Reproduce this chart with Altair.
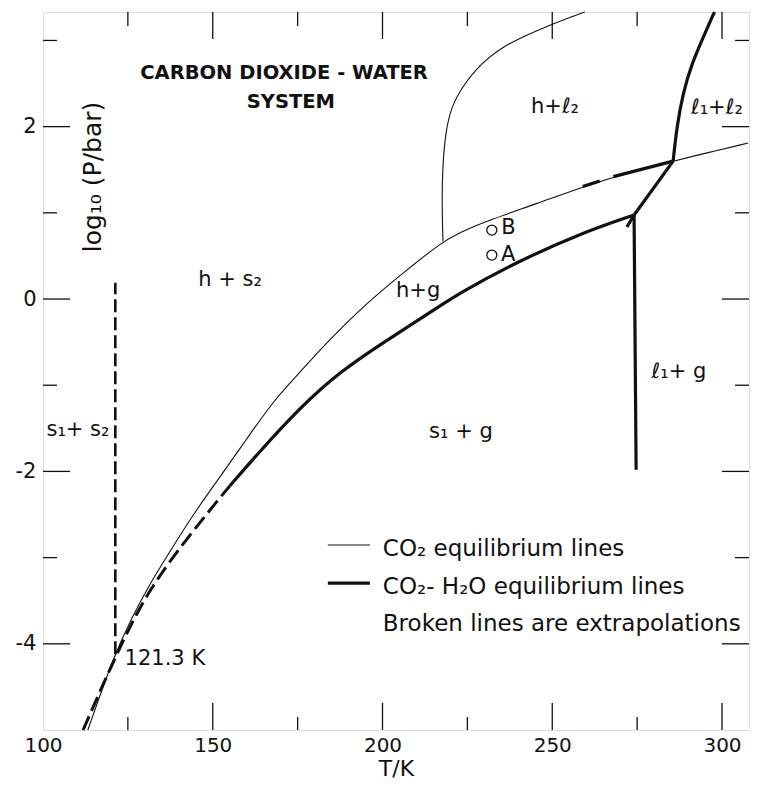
import altair as alt
import pandas as pd

W, H = 706, 718
X_DOM = [100, 307.95]
Y_DOM = [-5, 3.33]
FONT = "DejaVu Sans"
INK = "#111111"

# ---- CO2 equilibrium lines (thin) ----
co2_sv_T = [113.2, 120.6, 125.6, 131.5, 137.4, 144.2, 152.0, 159.9, 167.7, 175.0, 183.6,
            195.3, 205.0, 217.8, 222.6, 231.7, 245.0, 260.2, 272.0, 285.6, 296.0, 307.7]
co2_sv_P = [-5.0, -4.17, -3.74, -3.30, -2.93, -2.50, -2.07, -1.63, -1.19, -0.88, -0.50,
            -0.05, 0.27, 0.67, 0.77, 0.92, 1.10, 1.32, 1.46, 1.60, 1.70, 1.81]
co2_melt_T = [217.8, 217.5, 217.7, 218.6, 220.5, 223.4, 227.2, 234.6, 245.5, 257.3, 259.6]
co2_melt_P = [0.67, 1.15, 1.53, 1.96, 2.25, 2.45, 2.66, 2.92, 3.12, 3.30, 3.33]

# ---- CO2-H2O equilibrium lines (thick) ----
hyd_dash_T = [111.8, 119.7, 127.6, 134.4, 142.4, 152.0, 155.0]
hyd_dash_P = [-5.0, -4.29, -3.63, -3.20, -2.78, -2.31, -2.17]
hyd_T = [155.0, 163.8, 175.7, 187.5, 201.2, 215.0, 222.8, 238.5, 258.2, 274.1]
hyd_P = [-2.17, -1.77, -1.26, -0.84, -0.48, -0.13, 0.07, 0.41, 0.76, 0.975]
ice_T = [274.1, 274.4, 274.7]
ice_P = [0.975, -0.50, -1.98]
q1q2_T = [274.1, 285.6]
q1q2_P = [0.975, 1.60]
q2top_T = [285.6, 286.7, 288.5, 291.2, 294.5, 297.4, 297.8]
q2top_P = [1.60, 2.00, 2.39, 2.74, 3.04, 3.30, 3.33]
over1_T = [259.0, 264.0]
over1_P = [1.305, 1.37]
over2_T = [268.0, 285.6]
over2_P = [1.42, 1.60]
stub_T = [272.0, 274.1]
stub_P = [0.836, 0.975]
# s1 + s2 boundary (extrapolated)
vert_T = [121.3, 121.3]
vert_P = [-4.12, 0.19]

# ---- points A, B ----
pts_T = [232.2, 232.2]
pts_P = [0.80, 0.51]

# ---- ticks ----
x_major = [150, 200, 250, 300]
x_minor = [125, 175, 225, 275]
y_major = [-4, -2, 0, 2]
y_minor = [-3, -1, 1, 3]
x_labels = [100, 150, 200, 250, 300]
y_labels = [-4, -2, 0, 2]

# ---- region labels ----
lab_text = ["h + s₂", "h+ℓ₂", "ℓ₁+ℓ₂", "h+g", "B", "A", "ℓ₁+ g", "s₁ + g", "s₁+ s₂", "121.3 K"]
lab_T = [155.1, 250.8, 298.5, 210.5, 237.1, 237.0, 287.3, 223.1, 110.3, 135.9]
lab_P = [0.22, 2.23, 2.22, 0.09, 0.82, 0.51, -0.85, -1.54, -1.52, -4.18]

title_text = ["CARBON  DIOXIDE - WATER", "SYSTEM"]
title_T = [171.0, 173.0]
title_P = [2.617, 2.29]

legend_text = ["CO₂  equilibrium lines", "CO₂- H₂O  equilibrium  lines",
               "Broken lines are extrapolations"]
legend_T = [200.1, 200.1, 200.1]
legend_P = [-2.90, -3.34, -3.77]
legend_line_T = [183.9, 196.3]
legend_thin_P = -2.854
legend_thick_P = -3.295


def seg_df(segs):
    rows = []
    for name, (ts, ps) in segs.items():
        for i, (t, p) in enumerate(zip(ts, ps)):
            rows.append({"seg": name, "i": i, "T": t, "P": p})
    return pd.DataFrame(rows)


xs = alt.Scale(domain=X_DOM, nice=False, zero=False)
ys = alt.Scale(domain=Y_DOM, nice=False, zero=False)
xaxis = alt.Axis(values=x_labels, ticks=False, domain=False, grid=False, labelFlush=False,
                 labelFontSize=20, labelPadding=5, labelColor=INK, labelFont=FONT,
                 title="T/K", titleFontSize=22, titleFontWeight="normal",
                 titleColor=INK, titleFont=FONT, titlePadding=3)
yaxis = alt.Axis(values=y_labels, ticks=False, domain=False, grid=False, labelFlush=False,
                 labelFontSize=21, labelPadding=7, labelColor=INK, labelFont=FONT,
                 labelExpr="datum.value < 0 ? '-' + abs(datum.value) : '' + datum.value",
                 title="")
X = alt.X("T:Q", scale=xs, axis=xaxis)
Y = alt.Y("P:Q", scale=ys, axis=yaxis)


def lines(df, width, dash=None, interp="linear"):
    kw = dict(strokeWidth=width, color=INK, interpolate=interp, strokeCap="butt")
    if dash:
        kw["strokeDash"] = dash
    return alt.Chart(df).mark_line(**kw).encode(
        x=X, y=Y, detail="seg:N", order="i:Q")


thin = lines(seg_df({"sv": (co2_sv_T, co2_sv_P), "melt": (co2_melt_T, co2_melt_P)}),
             1.1, interp="basis")
thick_curves = lines(seg_df({"hyd": (hyd_T, hyd_P), "ice": (ice_T, ice_P),
                             "q2top": (q2top_T, q2top_P)}), 3.2, interp="basis")
thick = lines(seg_df({
    "q1q2": (q1q2_T, q1q2_P), "o1": (over1_T, over1_P), "o2": (over2_T, over2_P),
    "stub": (stub_T, stub_P)}), 3.2)
thick_dash = lines(seg_df({"hd": (hyd_dash_T, hyd_dash_P)}), 3.0, [15, 6], interp="basis")
vert_dash = lines(seg_df({"v": (vert_T, vert_P)}), 2.6, [13, 5])

legend_lines = lines(seg_df({
    "l1": (legend_line_T, [legend_thin_P, legend_thin_P])}), 1.1) + lines(seg_df({
    "l2": (legend_line_T, [legend_thick_P, legend_thick_P])}), 3.2)

points = alt.Chart(pd.DataFrame({"T": pts_T, "P": pts_P})).mark_point(
    shape="circle", size=100, filled=False, color=INK, strokeWidth=1.3, opacity=1
).encode(x=X, y=Y)

labels = alt.Chart(pd.DataFrame({"t": lab_text, "T": lab_T, "P": lab_P})).mark_text(
    font=FONT, fontSize=21, color=INK, align="center", baseline="middle"
).encode(x=X, y=Y, text="t:N")

titles = alt.Chart(pd.DataFrame({"t": title_text, "T": title_T, "P": title_P})).mark_text(
    font=FONT, fontSize=19.5, fontWeight="bold", color=INK, align="center", baseline="middle"
).encode(x=X, y=Y, text="t:N")

legend_txt = alt.Chart(pd.DataFrame({"t": legend_text, "T": legend_T, "P": legend_P})).mark_text(
    font=FONT, fontSize=23, color=INK, align="left", baseline="middle"
).encode(x=X, y=Y, text="t:N")

ytitle = alt.Chart(pd.DataFrame({"t": ["log₁₀ (P/bar)"], "T": [114.7], "P": [1.416]})).mark_text(
    font=FONT, fontSize=25, color=INK, align="center", baseline="middle", angle=270
).encode(x=X, y=Y, text="t:N")


def xticks(vals, length, top):
    df = pd.DataFrame({"T": vals})
    if top:
        enc = dict(y=alt.value(0), y2=alt.value(length))
    else:
        enc = dict(y=alt.value(H), y2=alt.value(H - length))
    return alt.Chart(df).mark_rule(color=INK, strokeWidth=1.3).encode(x=X, **enc)


def yticks(vals, length, right):
    df = pd.DataFrame({"P": vals})
    if right:
        enc = dict(x=alt.value(W), x2=alt.value(W - length))
    else:
        enc = dict(x=alt.value(0), x2=alt.value(length))
    return alt.Chart(df).mark_rule(color=INK, strokeWidth=1.3).encode(y=Y, **enc)


ticks = (xticks(x_major, 27, False) + xticks(x_minor, 13, False) +
         xticks(x_major, 27, True) + xticks(x_minor, 14, True) +
         yticks(y_major, 27, False) + yticks(y_minor, 14, False) +
         yticks(y_major, 27, True) + yticks(y_minor, 14, True))

chart = alt.layer(
    ticks, thin, thick_curves, thick, thick_dash, vert_dash, legend_lines, points,
    labels, titles, legend_txt, ytitle
).properties(
    width=W, height=H,
    autosize=alt.AutoSizeParams(type="none"),
    padding={"left": 35, "top": 4, "right": 1, "bottom": 52},
).configure_view(
    stroke=INK, strokeWidth=1.5
).configure(background="white")

chart.save("out.html", embed_options={"renderer": "svg", "actions": False})
